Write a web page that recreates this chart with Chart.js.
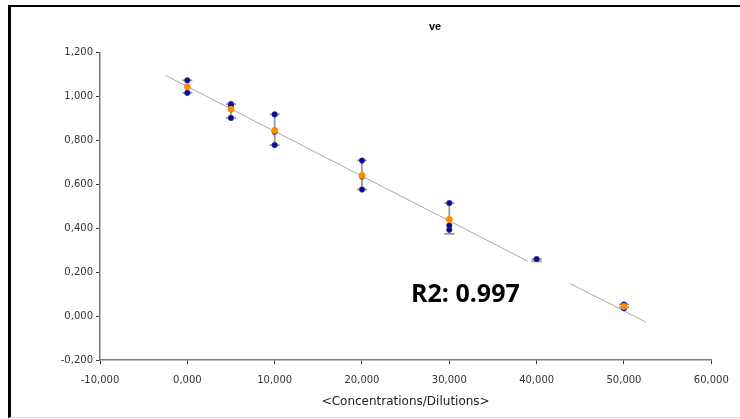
<!DOCTYPE html>
<html>
<head>
<meta charset="utf-8">
<script src="https://cdn.jsdelivr.net/npm/chart.js@4"></script>
<style>
  body { margin: 0; background: #fff; }
  #wrap { position: relative; width: 740px; height: 419px; overflow: hidden; }
  #frame {
    position: absolute; left: 8px; top: 5px; width: 729px; height: 410px;
    border-top: 2px solid #000; border-left: 3px solid #000; border-bottom: 1px solid #e2e2e2;
  }
  canvas { position: absolute; left: 0; top: 0; }
</style>
</head>
<body>
<div id="wrap">
  <div id="frame"></div>
  <canvas id="grafico" width="740" height="419"></canvas>
</div>
<script>
// concentrations (x) and replicate readings (blue points)
const concentraciones = [0, 5, 10, 20, 30, 40, 50];
const replica1 = [1.074, 0.966, 0.919, 0.709, 0.515, 0.260, 0.053];
const replica2 = [1.017, 0.957, 0.840, 0.636, 0.413, null, 0.036];
const replica3 = [null, 0.903, 0.779, 0.577, 0.393, null, null];
// means (orange points)
const medias = [1.045, 0.942, 0.846, 0.641, 0.440, null, 0.044];
// error bar ends
const errorBajo = [1.017, 0.903, 0.779, 0.577, 0.375, 0.250, 0.040];
const errorAlto = [1.074, 0.966, 0.919, 0.709, 0.515, 0.260, 0.053];
// regression line (null = gap in the line)
const ajusteX = [-2.5, 38.95, 41, 43.9, 52.5];
const ajusteY = [1.097, 0.251, null, 0.147, -0.027];
const ticksX = [-10, 0, 10, 20, 30, 40, 50, 60];
const ticksY = [-0.2, 0, 0.2, 0.4, 0.6, 0.8, 1.0, 1.2];
const titulo = "ve";
const etiquetaR2 = "R2: 0.997";

const puntos = (ys) => concentraciones
    .map((c, i) => ({x: c, y: ys[i]}))
    .filter(p => p.y !== null);

const coma = (v) => v.toFixed(3).replace('.', ',');

const barrasError = {
    id: 'barrasError',
    beforeDatasetsDraw(chart) {
        const {ctx, scales: {x, y}} = chart;
        ctx.save();
        ctx.strokeStyle = '#999';
        ctx.lineWidth = 1.8;
        concentraciones.forEach((c, i) => {
            const px = x.getPixelForValue(c);
            const y1 = y.getPixelForValue(errorBajo[i]);
            const y2 = y.getPixelForValue(errorAlto[i]);
            ctx.beginPath();
            ctx.moveTo(px, y1); ctx.lineTo(px, y2);
            ctx.moveTo(px - 5, y1); ctx.lineTo(px + 5, y1);
            ctx.moveTo(px - 5, y2); ctx.lineTo(px + 5, y2);
            ctx.stroke();
        });
        ctx.restore();
    },
    afterDraw(chart) {
        const ctx = chart.ctx;
        ctx.save();
        ctx.fillStyle = '#000';
        ctx.textAlign = 'center';
        ctx.textBaseline = 'middle';
        ctx.font = 'bold 11px "Liberation Sans", Arial, sans-serif';
        ctx.fillText(titulo, 435, 27);
        ctx.textAlign = 'left';
        ctx.textBaseline = 'alphabetic';
        ctx.font = 'bold 25px "Open Sans", sans-serif';
        ctx.fillText(etiquetaR2, 411, 302);
        ctx.restore();
    }
};

let miCanvas = document.getElementById("grafico").getContext("2d");
var chart = new Chart(miCanvas, {
    type: "scatter",
    data: {
        datasets: [
            {
                label: "medias",
                data: puntos(medias),
                backgroundColor: '#ff8c00',
                borderColor: '#ff8c00',
                pointRadius: 3,
                order: 0
            },
            {
                label: "replicas",
                data: [...puntos(replica1), ...puntos(replica2), ...puntos(replica3)],
                backgroundColor: '#0a0a8c',
                borderColor: '#3a3ab0',
                borderWidth: 0.5,
                pointRadius: 2.8,
                order: 1
            },
            {
                label: "ajuste",
                data: ajusteX.map((v, i) => ({x: v, y: ajusteY[i]})),
                showLine: true,
                spanGaps: false,
                borderColor: '#a8a8a8',
                borderWidth: 1,
                pointRadius: 0,
                order: 2
            }
        ]
    },
    options: {
        responsive: false,
        animation: false,
        layout: { padding: {left: 0, right: 28.7, top: 52.7, bottom: 0} },
        plugins: {
            legend: { display: false },
            tooltip: { enabled: false }
        },
        scales: {
            x: {
                type: 'linear',
                min: -10, max: 60,
                afterFit: (s) => { s.height = 59; },
                afterBuildTicks: (s) => { s.ticks = ticksX.map(v => ({value: v})); },
                grid: { drawOnChartArea: false, tickLength: 4, color: '#333' },
                border: { color: '#7a7a7a', width: 1.5 },
                ticks: {
                    maxRotation: 0, padding: 10, color: '#333',
                    font: { family: '"DejaVu Sans", sans-serif', size: 10 },
                    callback: (v) => coma(v)
                },
                title: {
                    display: true,
                    text: '<Concentrations/Dilutions>',
                    color: '#222',
                    font: { family: '"DejaVu Sans", sans-serif', size: 12 },
                    padding: {top: 4, bottom: 10}
                }
            },
            y: {
                type: 'linear',
                min: -0.2, max: 1.2,
                afterFit: (s) => { s.width = 100; },
                afterBuildTicks: (s) => { s.ticks = ticksY.map(v => ({value: v})); },
                grid: { drawOnChartArea: false, tickLength: 4, color: '#333' },
                border: { color: '#7a7a7a', width: 1.5 },
                ticks: {
                    padding: 3, color: '#333',
                    font: { family: '"DejaVu Sans", sans-serif', size: 10 },
                    callback: (v) => coma(v)
                }
            }
        }
    },
    plugins: [barrasError]
});
</script>
</body>
</html>
